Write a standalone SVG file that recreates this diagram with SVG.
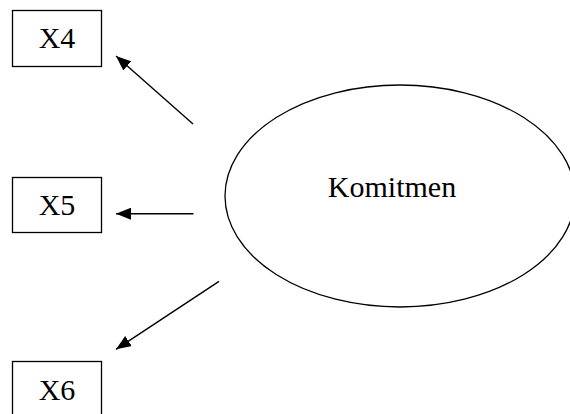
<svg xmlns="http://www.w3.org/2000/svg" width="570" height="414" viewBox="0 0 570 414">
<style>
.box{fill:#fff;stroke:#000;stroke-width:1.3}
.lbl{font-family:"Liberation Serif","Times New Roman",serif;font-size:30px;fill:#000;text-anchor:middle}
.conn{stroke:#000;stroke-width:1.4;fill:none;marker-end:url(#ah)}
</style>
<defs>
<marker id="ah" markerUnits="userSpaceOnUse" markerWidth="16" markerHeight="12" refX="15" refY="6" orient="auto">
<path d="M0,0 L15,6 L0,12 z" fill="#000"/>
</marker>
</defs>
<rect width="570" height="414" fill="#fff"/>
<g id="x4"><rect class="box" x="12.5" y="10.5" width="89" height="56"/><text class="lbl" x="57" y="48">X4</text></g>
<g id="x5"><rect class="box" x="12.5" y="177.5" width="89" height="55"/><text class="lbl" x="57" y="215">X5</text></g>
<g id="x6"><rect class="box" x="12.5" y="361.5" width="89" height="60"/><text class="lbl" x="57" y="399.5">X6</text></g>
<g id="komitmen"><ellipse class="box" cx="400" cy="196" rx="175" ry="111"/><text class="lbl" x="392" y="196.5">Komitmen</text></g>
<g id="connectors">
<line class="conn" x1="193" y1="124" x2="116" y2="56"/>
<line class="conn" x1="193.5" y1="213.7" x2="116" y2="213.7"/>
<line class="conn" x1="219" y1="281.3" x2="116" y2="349.3"/>
</g>
</svg>
